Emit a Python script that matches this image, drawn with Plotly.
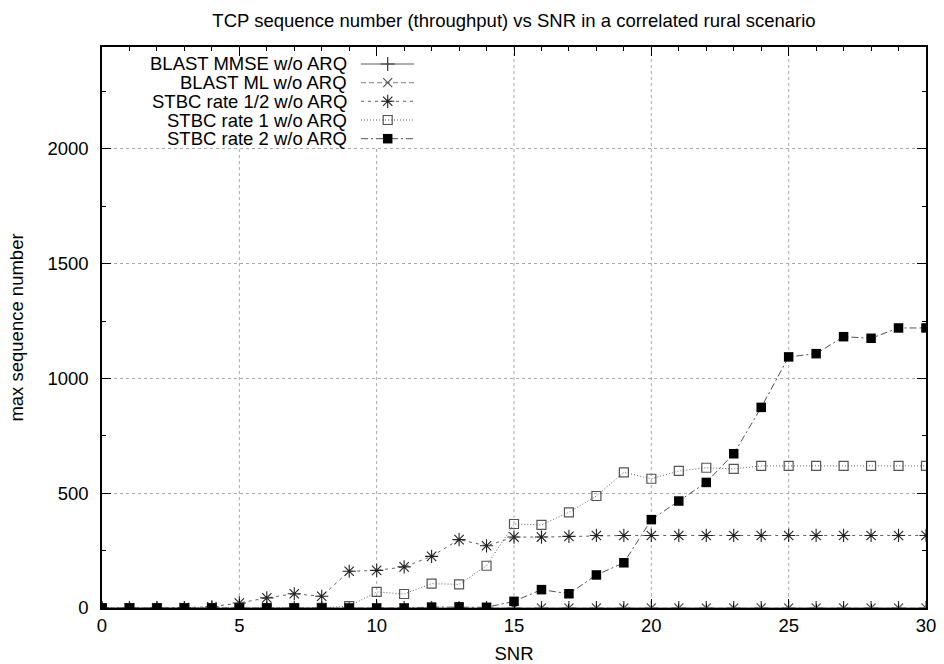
import plotly.graph_objects as go

# SNR sweep and maximum TCP sequence number reached per scheme
snr = list(range(0, 31))

blast_mmse = [0] * 31
blast_ml = [0] * 31
stbc_half = [0, 0, 0, 2, 5, 22, 44, 62, 51, 160, 164, 179, 225, 298, 271, 309,
             309, 312, 316, 316, 316, 316, 316, 316, 316, 316, 316, 316, 316, 316, 316]
stbc_one = [0, 0, 0, 0, 0, 0, 0, 0, 1, 8, 70, 61, 106, 103, 184, 366,
            362, 417, 488, 591, 563, 597, 611, 606, 619, 619, 619, 619, 619, 619, 619]
stbc_two = [0, 0, 0, 0, 0, 0, 0, 0, 0, 0, 0, 0, 4, 5, 3, 29,
            80, 62, 144, 197, 385, 466, 547, 672, 874, 1094, 1108, 1182, 1175, 1220, 1220]

series_names = [
    "BLAST MMSE w/o ARQ",
    "BLAST ML w/o ARQ",
    "STBC rate 1/2 w/o ARQ",
    "STBC rate 1 w/o ARQ",
    "STBC rate 2 w/o ARQ",
]
series_values = [blast_mmse, blast_ml, stbc_half, stbc_one, stbc_two]

# line / marker style per series (gnuplot-like monochrome)
styles = [
    dict(dash="solid", lcolor="#5a5a5a", symbol="cross-thin-open", size=10, mcolor="#333333", mline=1.2),
    dict(dash="5px,3px", lcolor="#808080", symbol="x-thin-open", size=9, mcolor="#555555", mline=1.2),
    dict(dash="3px,4px", lcolor="#606060", symbol="asterisk-open", size=11, mcolor="#222222", mline=1.1),
    dict(dash="1px,2px", lcolor="#606060", symbol="square-open", size=9, mcolor="#555555", mline=1.2),
    dict(dash="7px,3px,2px,3px", lcolor="#505050", symbol="square", size=9.5, mcolor="#000000", mline=0),
]

FONT = "Liberation Sans, Arial, Helvetica, sans-serif"
FS = 18.5

X_RANGE = [0, 30]
Y_RANGE = [0, 2444]
X_GRID = [5, 10, 15, 20, 25]
GRID_COLOR = "#a8a8a8"

# plot area in pixels
plot_l, plot_r, plot_t, plot_b = 102, 926, 47, 608
pw, ph = plot_r - plot_l, plot_b - plot_t


def px_x(p):
    return (p - plot_l) / pw


def px_y(p):
    return (plot_b - p) / ph


def data_x(p):
    return X_RANGE[0] + px_x(p) * (X_RANGE[1] - X_RANGE[0])


def data_y(p):
    return Y_RANGE[0] + px_y(p) * (Y_RANGE[1] - Y_RANGE[0])


fig = go.Figure()

for name, vals, st in zip(series_names, series_values, styles):
    fig.add_trace(go.Scatter(
        x=snr, y=vals, name=name, mode="lines+markers",
        line=dict(color=st["lcolor"], width=1, dash=st["dash"]),
        marker=dict(symbol=st["symbol"], size=st["size"], color=st["mcolor"],
                    line=dict(color=st["mcolor"], width=st["mline"])),
        showlegend=False,
    ))

# vertical grid lines; the opaque key box hides them in its area
key_box_x = (data_x(140), data_x(425))
key_box_bottom = data_y(147)
for gx in X_GRID:
    top = key_box_bottom if key_box_x[0] <= gx <= key_box_x[1] else Y_RANGE[1]
    fig.add_shape(type="line", xref="x", yref="y", layer="below",
                  x0=gx, x1=gx, y0=Y_RANGE[0], y1=top,
                  line=dict(color=GRID_COLOR, width=1, dash="dot"))

# key: text right-aligned with the line sample on its right
key_rows = [64, 82.7, 101.3, 120, 138.7]
key_text_right = 348
key_line = (361, 414)
key_mark = 387.7

for name, st, row in zip(series_names, styles, key_rows):
    ky = px_y(row)
    fig.add_trace(go.Scatter(
        x=[px_x(key_line[0]), px_x(key_line[1])], y=[ky, ky],
        mode="lines", xaxis="x2", yaxis="y2", showlegend=False, hoverinfo="skip",
        line=dict(color=st["lcolor"], width=1, dash=st["dash"]),
    ))
    fig.add_trace(go.Scatter(
        x=[px_x(key_mark)], y=[ky],
        mode="markers", xaxis="x2", yaxis="y2", showlegend=False, hoverinfo="skip",
        marker=dict(symbol=st["symbol"], size=st["size"], color=st["mcolor"],
                    line=dict(color=st["mcolor"], width=st["mline"])),
    ))
    fig.add_annotation(
        x=px_x(key_text_right), y=ky, xref="paper", yref="paper",
        xanchor="right", yanchor="middle", showarrow=False, borderpad=0,
        text=name, font=dict(family=FONT, size=FS, color="#000000"),
    )

axis_common = dict(
    showline=True, linecolor="black", linewidth=1.5, mirror="allticks",
    ticks="inside", ticklen=9, tickwidth=1, tickcolor="black",
    zeroline=False, automargin=False,
    tickfont=dict(family=FONT, size=FS, color="black"),
)

fig.update_layout(
    width=944, height=664,
    margin=dict(l=plot_l, r=944 - plot_r, t=plot_t, b=664 - plot_b, autoexpand=False),
    paper_bgcolor="white", plot_bgcolor="white",
    title=dict(text="TCP sequence number (throughput) vs SNR in a correlated rural scenario",
               x=0.5, xref="paper", xanchor="center", y=1 - 21 / 664, yanchor="middle",
               automargin=False,
               font=dict(family=FONT, size=FS, color="black")),
    xaxis=dict(range=X_RANGE, dtick=5, tick0=0, showgrid=False,
               minor=dict(dtick=1, ticks="inside", ticklen=4.5, tickcolor="black", showgrid=False),
               title=dict(text="SNR", font=dict(family=FONT, size=FS, color="black"), standoff=13),
               ticklabelstandoff=0,
               **axis_common),
    yaxis=dict(range=Y_RANGE, dtick=500, tick0=0,
               showgrid=True, gridcolor=GRID_COLOR, griddash="dot", gridwidth=1,
               minor=dict(dtick=250, ticks="inside", ticklen=4.5, tickcolor="black", showgrid=False),
               title=dict(text="max sequence number", font=dict(family=FONT, size=FS, color="black"), standoff=19),
               ticklabelstandoff=8,
               **axis_common),
    xaxis2=dict(overlaying="x", range=[0, 1], visible=False, anchor="y2"),
    yaxis2=dict(overlaying="y", range=[0, 1], visible=False, anchor="x2"),
    showlegend=False,
)

fig.write_html("out.html")
